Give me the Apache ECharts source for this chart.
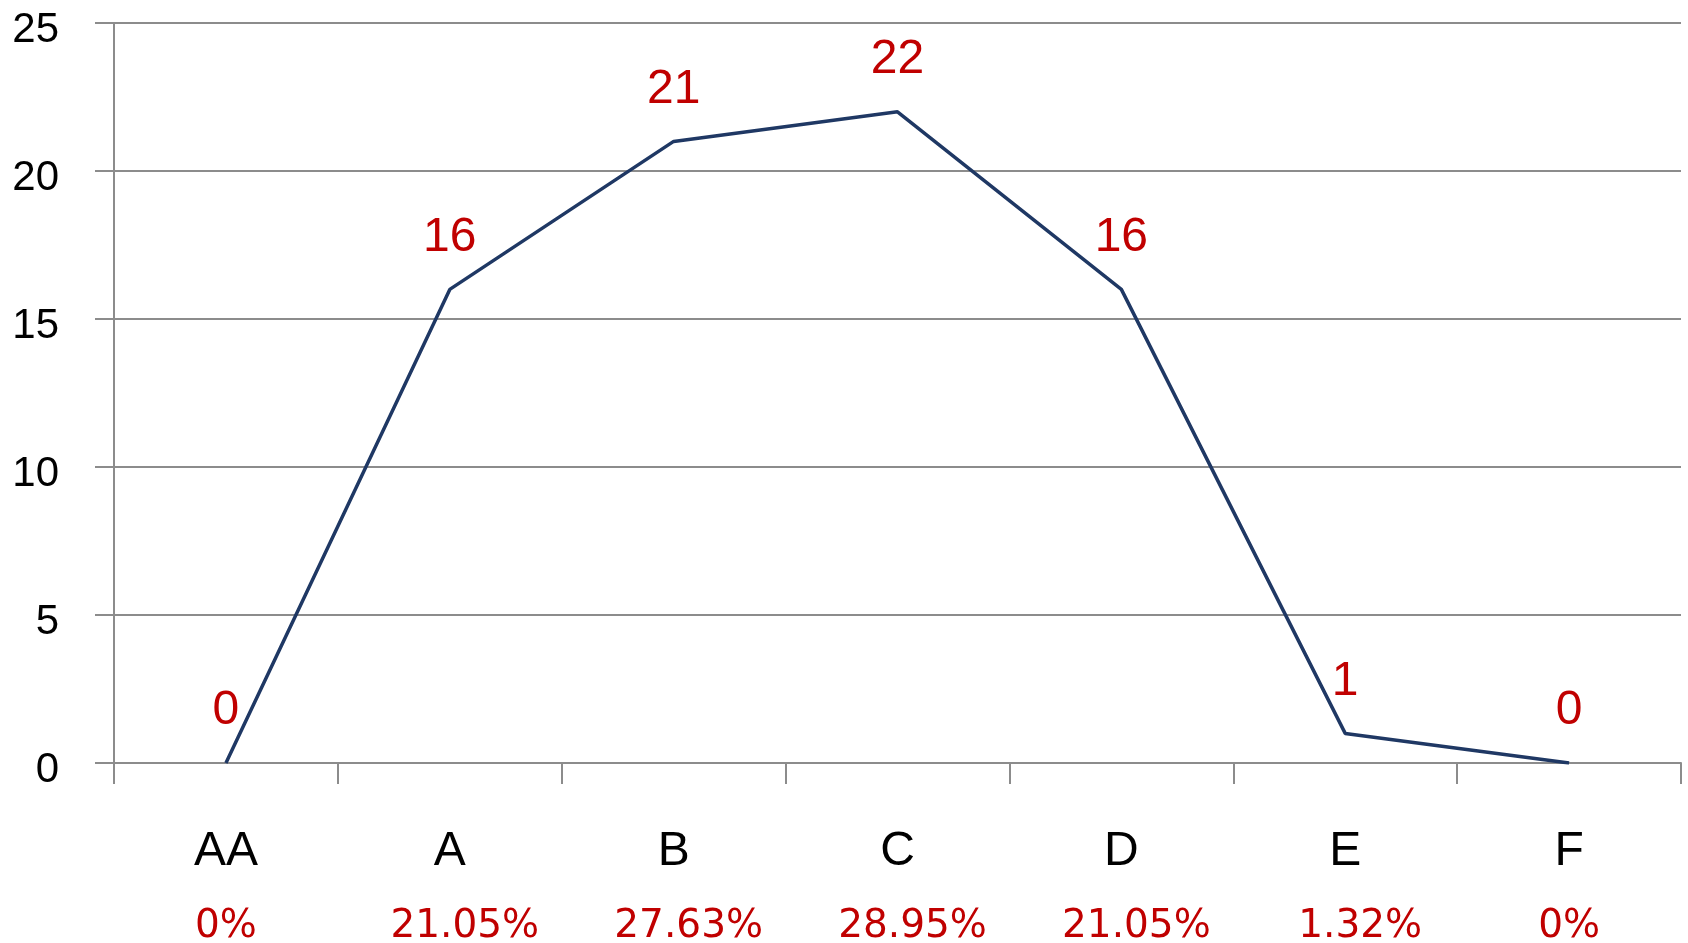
<!DOCTYPE html>
<html>
<head>
<meta charset="utf-8">
<style>
  html, body { margin: 0; padding: 0; background: #fff; }
  #chart { width: 1688px; height: 943px; }
</style>
<script src="https://cdn.jsdelivr.net/npm/echarts@6/dist/echarts.min.js"></script>
</head>
<body>
<div id="chart"></div>
<script>
// dados
const categorias = ['AA', 'A', 'B', 'C', 'D', 'E', 'F'];
const valores = [0, 16, 21, 22, 16, 1, 0];
const percentuais = ['0%', '21.05%', '27.63%', '28.95%', '21.05%', '1.32%', '0%'];

const fonte = '"Liberation Sans", Arial, sans-serif';
const fontePct = '"DejaVu Sans", sans-serif';
const cinza = '#8c8c8c';
const vermelho = '#C00000';

const chart = echarts.init(document.getElementById('chart'));

chart.setOption({
  animation: false,
  grid: { left: 114, right: 7, top: 23, bottom: 180, outerBoundsMode: 'none' },
  xAxis: {
    type: 'category',
    data: categorias,
    boundaryGap: true,
    axisLine: { lineStyle: { color: cinza, width: 2 } },
    axisTick: { show: true, interval: 0, length: 21, lineStyle: { color: cinza, width: 2 } },
    axisLabel: {
      margin: 51,
      interval: 0,
      formatter: (v, i) => {
        // os percentuais com casas decimais aparecem um pouco deslocados à direita
        const estilo = percentuais[i].length > 2 ? 'c' : 'b';
        return '{a|' + v + '}\n{' + estilo + '|' + percentuais[i] + '}';
      },
      rich: {
        a: { fontSize: 48, fontFamily: fonte, color: '#000', lineHeight: 75 },
        b: { fontSize: 39, fontFamily: fontePct, color: vermelho, lineHeight: 75 },
        c: { fontSize: 39, fontFamily: fontePct, color: vermelho, lineHeight: 75, padding: [0, 0, 0, 30] }
      }
    },
    splitLine: { show: false }
  },
  yAxis: {
    type: 'value',
    min: 0,
    max: 25,
    interval: 5,
    axisLine: { show: true, lineStyle: { color: cinza, width: 2 } },
    axisTick: { show: true, length: 19, lineStyle: { color: cinza, width: 2 } },
    axisLabel: {
      fontSize: 42, fontFamily: fonte, color: '#000', margin: 55,
      formatter: '{v|{value}}',
      rich: { v: { fontSize: 42, fontFamily: fonte, color: '#000', padding: [14, 0, 0, 0] } }
    },
    splitLine: { lineStyle: { color: cinza, width: 2 } }
  },
  series: [{
    type: 'line',
    data: valores,
    symbol: 'circle',
    symbolSize: 0,
    lineStyle: { color: '#1F3864', width: 3.5 },
    itemStyle: { color: '#1F3864' },
    label: {
      show: true,
      position: 'top',
      distance: 28,
      fontSize: 48,
      fontFamily: fonte,
      color: vermelho
    }
  }]
});
</script>
</body>
</html>
